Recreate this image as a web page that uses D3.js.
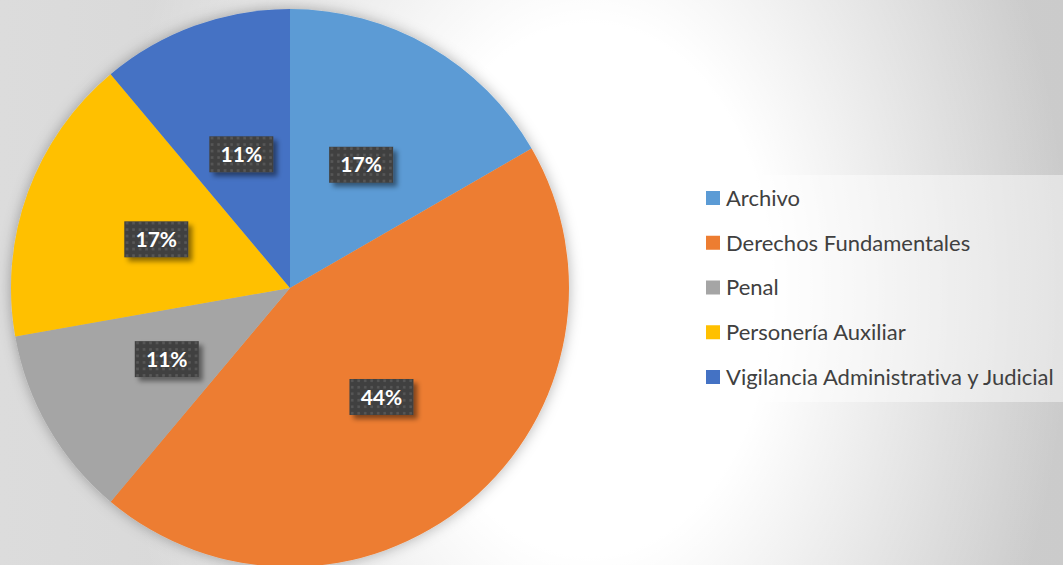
<!DOCTYPE html>
<html>
<head>
<meta charset="utf-8">
<script src="https://cdn.jsdelivr.net/npm/d3@7"></script>
<style>
  body { margin: 0; overflow: hidden; }
  svg { display: block; }
  text { font-variant-ligatures: none; font-feature-settings: "liga" 0; }
</style>
</head>
<body>
<div id="chart"></div>
<script>
// data (counts out of 18)
var categories = ["Archivo", "Derechos Fundamentales", "Penal", "Personería Auxiliar", "Vigilancia Administrativa y Judicial"];
var values = [3, 8, 2, 3, 2];
var colors = ["#5B9BD5", "#ED7D31", "#A5A5A5", "#FFC000", "#4472C4"];

var width = 1063, height = 565;
var cx = 290, cy = 288, radius = 279;

var svg = d3.select("#chart").append("svg")
    .attr("width", width)
    .attr("height", height);

var defs = svg.append("defs");

// background: grey left->right, with a white elliptical spot near the middle
var base = defs.append("linearGradient")
    .attr("id", "base")
    .attr("x1", "0%").attr("x2", "100%").attr("y1", "0%").attr("y2", "0%");
base.append("stop").attr("offset", "0%").attr("stop-color", "#dcdcdc");
base.append("stop").attr("offset", "100%").attr("stop-color", "#cbcbcb");

var spot = defs.append("radialGradient")
    .attr("id", "spot")
    .attr("gradientUnits", "userSpaceOnUse")
    .attr("cx", 0).attr("cy", 0).attr("r", 1)
    .attr("gradientTransform", "translate(590,290) scale(480,700)");
spot.append("stop").attr("offset", "0%").attr("stop-color", "#fff").attr("stop-opacity", 1);
spot.append("stop").attr("offset", "38%").attr("stop-color", "#fff").attr("stop-opacity", 1);
spot.append("stop").attr("offset", "100%").attr("stop-color", "#fff").attr("stop-opacity", 0);

// soft shadow for the pie
var pieShadow = defs.append("filter").attr("id", "pieShadow")
    .attr("x", "-10%").attr("y", "-10%").attr("width", "120%").attr("height", "120%");
pieShadow.append("feDropShadow")
    .attr("dx", 0).attr("dy", 0).attr("stdDeviation", 7)
    .attr("flood-color", "#000").attr("flood-opacity", 0.3);

// shadow for the label boxes
var boxShadow = defs.append("filter").attr("id", "boxShadow")
    .attr("x", "-30%").attr("y", "-30%").attr("width", "160%").attr("height", "160%");
boxShadow.append("feDropShadow")
    .attr("dx", 4).attr("dy", 4).attr("stdDeviation", 2.5)
    .attr("flood-color", "#000").attr("flood-opacity", 0.45);

// dotted fill of the label boxes
var dots = defs.append("pattern")
    .attr("id", "dots")
    .attr("patternUnits", "userSpaceOnUse")
    .attr("width", 6.5).attr("height", 6.5);
dots.append("rect").attr("width", 6.5).attr("height", 6.5).attr("fill", "#404040");
dots.append("rect").attr("x", 2).attr("y", 2).attr("width", 2.5).attr("height", 2.5).attr("fill", "#595959");

svg.append("rect")
    .attr("width", width)
    .attr("height", height)
    .attr("fill", "url(#base)");
svg.append("rect")
    .attr("width", width)
    .attr("height", height)
    .attr("fill", "url(#spot)");

//draw the pie
var pie = d3.pie().sort(null).value(function(d) { return d; });
var arcs = pie(values);
var total = d3.sum(values);

var arc = d3.arc().innerRadius(0).outerRadius(radius);
var labelArc = d3.arc().innerRadius(radius * 0.51).outerRadius(radius * 0.51);

var g = svg.append("g")
    .attr("transform", "translate(" + cx + "," + cy + ")");

g.append("g")
    .attr("filter", "url(#pieShadow)")
  .selectAll("path")
  .data(arcs)
  .enter().append("path")
    .attr("d", arc)
    .attr("fill", function(d, i) { return colors[i]; });

//percentage labels
var labels = g.selectAll(".label")
  .data(arcs)
  .enter().append("g")
    .attr("class", "label")
    .attr("transform", function(d) { return "translate(" + labelArc.centroid(d) + ")"; });

labels.append("rect")
    .attr("x", -32).attr("y", -18)
    .attr("width", 64).attr("height", 36)
    .attr("fill", "url(#dots)")
    .attr("filter", "url(#boxShadow)");

labels.append("text")
    .attr("text-anchor", "middle")
    .attr("dy", "0.36em")
    .attr("fill", "#ffffff")
    .style("font-family", "Lato, 'Open Sans', sans-serif")
    .style("font-weight", "bold")
    .style("font-size", "21px")
    .text(function(d) { return Math.round(d.value / total * 100) + "%"; });

//legend
var legend = svg.append("g")
    .attr("transform", "translate(693,175)");

legend.append("rect")
    .attr("width", 380)
    .attr("height", 227)
    .attr("fill", "#ffffff")
    .attr("fill-opacity", 0.45);

var item = legend.selectAll(".item")
  .data(categories)
  .enter().append("g")
    .attr("class", "item")
    .attr("transform", function(d, i) { return "translate(13," + (23 + i * 44.75) + ")"; });

item.append("rect")
    .attr("y", -7)
    .attr("width", 14).attr("height", 14)
    .attr("fill", function(d, i) { return colors[i]; });

item.append("text")
    .attr("x", 20)
    .attr("dy", "0.36em")
    .attr("fill", "#404040")
    .style("font-family", "Lato, 'Open Sans', sans-serif")
    .style("font-size", "22px")
    .text(function(d) { return d; });
</script>
</body>
</html>
